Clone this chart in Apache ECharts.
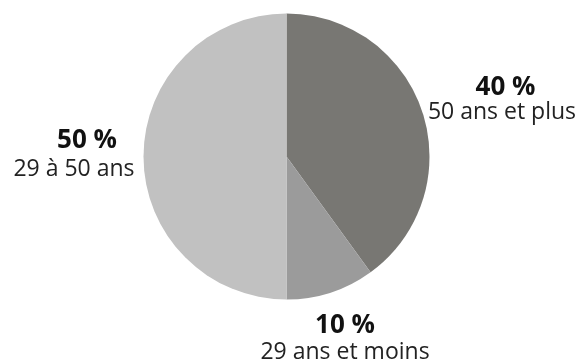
<!DOCTYPE html>
<html><head><meta charset="utf-8">
<script src="https://cdn.jsdelivr.net/npm/echarts@6/dist/echarts.min.js"></script>
<style>html,body{margin:0;padding:0;background:#fff}#c{width:583px;height:360px}</style>
</head><body><div id="c"></div>
<script>
const categories = ['50 ans et plus', '29 ans et moins', '29 à 50 ans'];
const values = [40, 10, 50];
const colors = ['#787773', '#9b9b9b', '#c1c1c1'];
const labelPos = [[502, 100], [345, 339], [74, 155]];
const boldShift = [7, 0, 26];
const lineH = [25, 27, 28];

const chart = echarts.init(document.getElementById('c'));
const rich = {};
values.forEach((v, i) => {
  rich['b' + i] = {fontFamily: 'Open Sans', fontWeight: 'bold', fontSize: 26, color: '#111', lineHeight: lineH[i], align: 'center', padding: [0, 0, 0, boldShift[i]]};
  rich['n' + i] = {fontFamily: 'Open Sans', fontSize: 23, color: '#222', lineHeight: lineH[i], align: 'center'};
});
chart.setOption({
  animation: false,
  series: [{
    type: 'pie',
    center: [286.5, 156.5],
    radius: [0, 143],
    startAngle: 90,
    clockwise: true,
    data: categories.map((n, i) => ({name: n, value: values[i], itemStyle: {color: colors[i]}})),
    itemStyle: {borderWidth: 0},
    emphasis: {disabled: true},
    labelLine: {show: false},
    label: {
      show: true,
      position: 'outside',
      overflow: 'none',
      formatter: p => '{b' + p.dataIndex + '|' + p.value + ' %}\n{n' + p.dataIndex + '|' + p.name + '}',
      rich: rich
    },
    labelLayout: p => ({x: labelPos[p.dataIndex][0], y: labelPos[p.dataIndex][1], align: 'center', verticalAlign: 'middle'})
  }]
});
</script></body></html>
